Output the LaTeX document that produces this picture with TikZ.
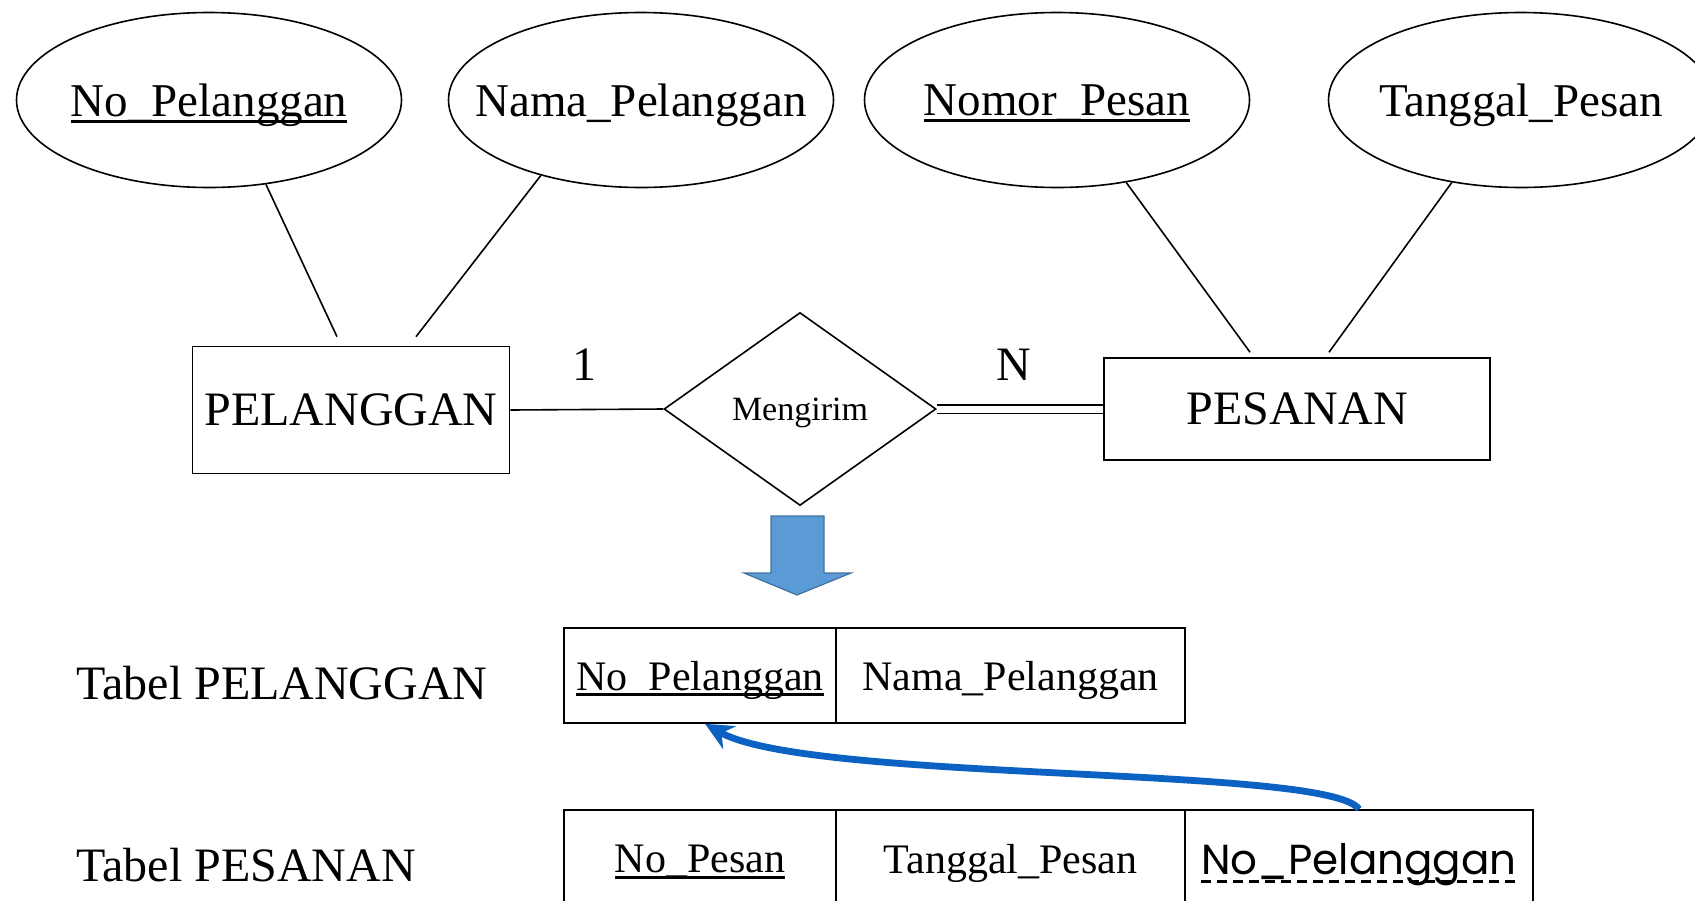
\documentclass[tikz,border=0pt]{standalone}
\usepackage{fontspec}
\setmainfont{Liberation Serif}
\newfontfamily\gothicfont{Poppins}
\usetikzlibrary{shapes.geometric,arrows.meta}
\definecolor{arrowblue}{RGB}{91,155,213}
\definecolor{arrowedge}{RGB}{65,113,156}
\definecolor{linkblue}{RGB}{12,98,194}
% key attribute: text with a heavy rule under it
\newcommand\keyattr[1]{\setbox0=\hbox{#1}\rlap{\vrule width \wd0 height -1.6pt depth 3.1pt}\box0}
\begin{document}
\begin{tikzpicture}[x=0.5pt,y=-0.5pt,
  every node/.style={font=\fontsize{24}{28}\selectfont},
  attr/.style={draw,ellipse,line width=0.8pt,minimum width=192.5pt,minimum height=87.5pt,
    inner sep=0pt,text depth=0pt,font=\fontsize{23.5}{28}\selectfont,
    execute at begin node={\hbox to 0pt\bgroup\hss},
    execute at end node={\hss\egroup}},
  entity/.style={draw,rectangle,line width=0.8pt,inner sep=0pt},
  rel/.style={draw,diamond,line width=0.8pt,minimum width=136pt,minimum height=96.5pt,
    inner sep=0pt,text depth=0pt,font=\fontsize{17}{20}\selectfont},
  cell/.style={draw,rectangle,line width=0.8pt,inner sep=0pt,text depth=0pt,
    font=\fontsize{21}{25}\selectfont},
  card/.style={inner sep=0pt},
  caption/.style={anchor=west,inner sep=0pt},
  link/.style={line width=0.8pt}
]
\clip (0,0) rectangle (1695,900);

% attributes
\node[attr] (e1) at (209,100) {\keyattr{No\_Pelanggan}};
\node[attr] (e2) at (641,100) {Nama\_Pelanggan};
\node[attr] (e3) at (1057,100) {\keyattr{Nomor\_Pesan}};
\node[attr] (e4) at (1521,100) {Tanggal\_Pesan};

% entities and relationship
\node[entity,minimum width=158.5pt,minimum height=63.5pt] (pel) at (351,410) {PELANGGAN};
\node[entity,minimum width=193pt,minimum height=51pt] (pes) at (1297,409) {PESANAN};
\node[rel] (dia) at (800,409) {Mengirim};

% attribute links
\draw[link] (e1.-56) -- ([xshift=-7pt,yshift=4.5pt]pel.north);
\draw[link] (e2.-143) -- ([xshift=32.5pt,yshift=4.5pt]pel.north);
\draw[link] (e3.-50) -- ([xshift=-23.5pt,yshift=2.5pt]pes.north);
\draw[link] (e4.-130) -- ([xshift=16pt,yshift=2.5pt]pes.north);

% relationship links
\draw[link] (pel.east) -- (dia.west);
\draw[line width=0.8pt,double,double distance=3.5pt] (dia.east) -- (pes.west);
\node[card] (one) at (584,365) {1};
\node[card] (many) at (1014,365) {N};

% block arrow
\filldraw[fill=arrowblue,draw=arrowedge,line width=0.6pt]
  (771,516) -- (824,516) -- (824,573) -- (851,573) -- (797,595) -- (744,573) -- (771,573) -- cycle;

% tables
\node[caption] (t1) at (76,683) {Tabel PELANGGAN};
\node[caption] (t2) at (76,865) {Tabel PESANAN};

\node[cell,minimum width=136pt,minimum height=47.5pt] (c11) at (700,675.5) {\keyattr{No\_Pelanggan}};
\node[cell,minimum width=174.5pt,minimum height=47.5pt] (c12) at (1010.5,675.5) {Nama\_Pelanggan};

\node[cell,minimum width=136pt,minimum height=49pt] (c21) at (700,859) {\keyattr{No\_Pesan}};
\node[cell,minimum width=174.5pt,minimum height=49pt] (c22) at (1010.5,859) {Tanggal\_Pesan};
\node[cell,minimum width=174pt,minimum height=49pt] (c23) at (1359,859) {};
\node[inner sep=0pt,text depth=0pt,font=\gothicfont\fontsize{21}{25}\selectfont] (fk) at (c23.center) {No\_Pelanggan};
\draw[dash pattern=on 5pt off 3pt,line width=1.5pt]
  ([yshift=-3.5pt]fk.base west) -- ([yshift=-3.5pt]fk.base east);

% foreign key reference
\draw[linkblue,line width=3.4pt,-{Stealth[length=14pt,width=13pt]}]
  (c23.north) .. controls +(-30,-44) and +(105,59) .. ([xshift=2.5pt]c11.south);
\end{tikzpicture}
\end{document}
